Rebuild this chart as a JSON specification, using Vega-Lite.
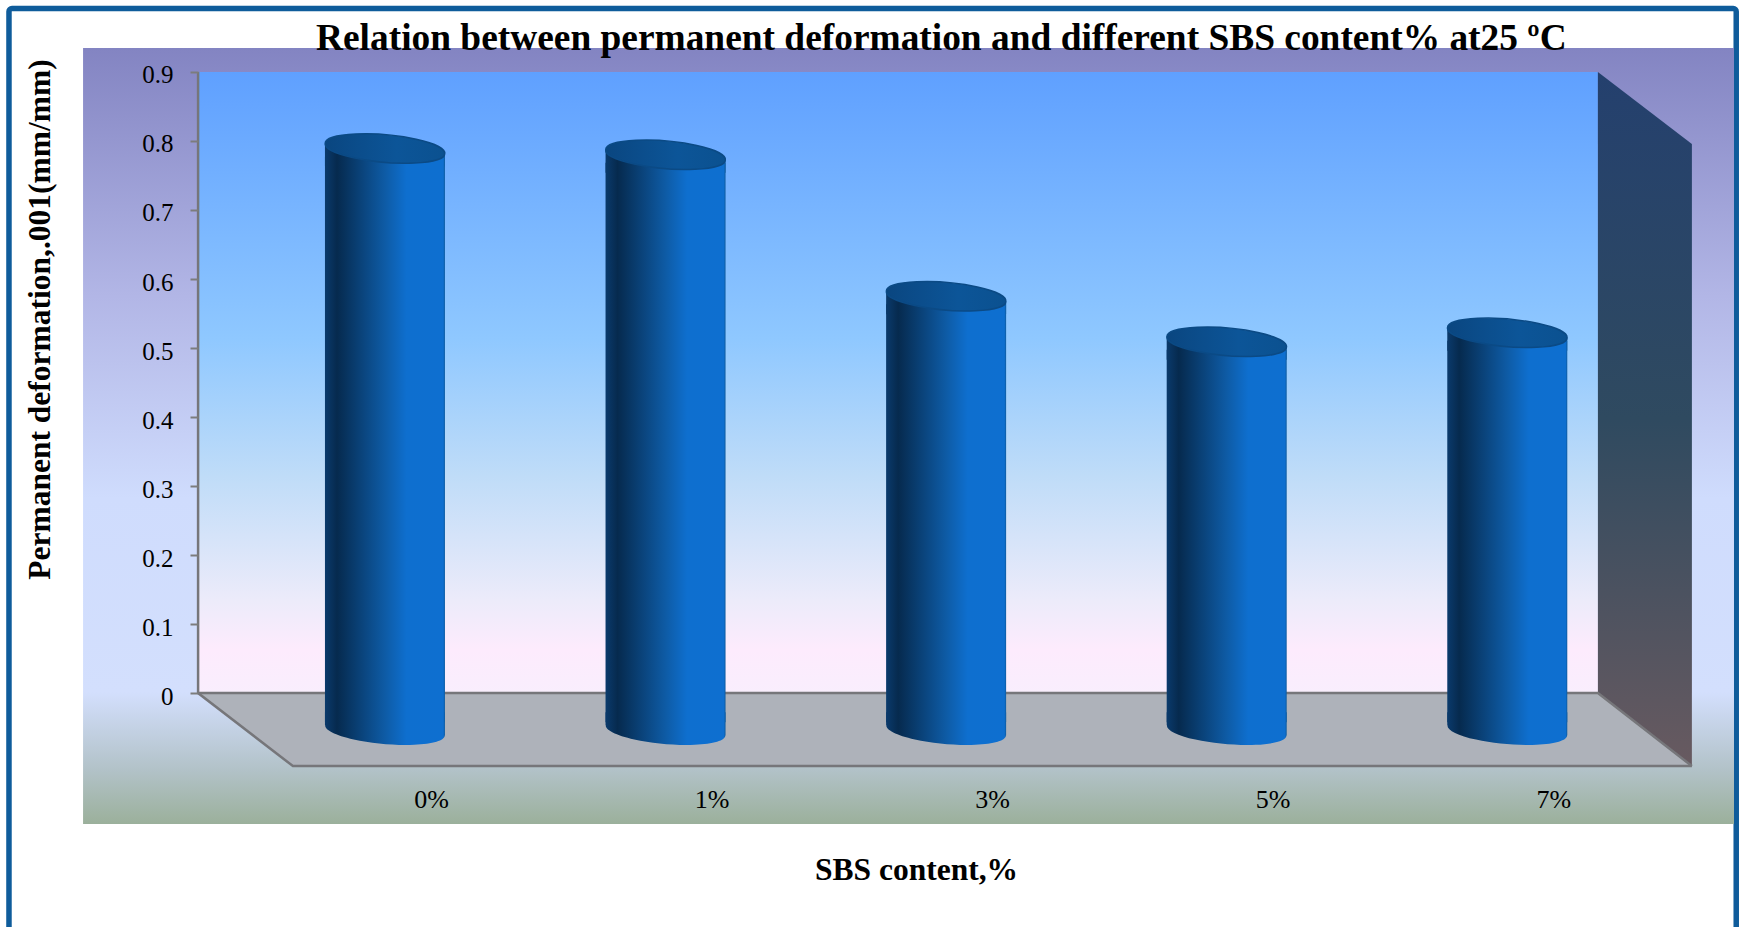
{
"$schema":"https://vega.github.io/schema/vega-lite/v6.json",
"width":1741,"height":927,"autosize":{"type":"none"},"padding":0,"background":"white",
"config":{"view":{"stroke":null},"axis":{"grid":false}},
"title":{"text":"Relation between permanent deformation and different SBS content% at25 ºC","anchor":"start","frame":"group","dx":316,"dy":37,"offset":-50,"baseline":"alphabetic","font":"Liberation Serif","fontWeight":"bold","fontSize":37.4,"color":"black"},
"datasets":{
"frame":[{"x":-1.34,"x2":4.816,"y":0.992,"y2":-0.345}],
"panel":[{"x":-1.076,"x2":4.808,"y":0.9348,"y2":-0.1899}],
"wall":[{"x":-0.666,"x2":4.323,"y":0.9,"y2":0}],
"side":[{"x":4.323,"y":0.9,"y2":0},{"x":4.658,"y":0.7957,"y2":-0.1058}],
"floor":[{"x":-0.666,"y":0,"y2":0},{"x":-0.328,"y":0,"y2":-0.1058},{"x":4.323,"y":0,"y2":-0.1058},{"x":4.658,"y":-0.1058,"y2":-0.1058}],
"edges":[{"s":"a","o":1,"x":-0.666,"y":0.9},{"s":"a","o":2,"x":-0.666,"y":0},{"s":"a","o":3,"x":-0.328,"y":-0.1058},{"s":"a","o":4,"x":4.658,"y":-0.1058},{"s":"b","o":1,"x":-0.666,"y":0},{"s":"b","o":2,"x":4.323,"y":0},{"s":"b","o":3,"x":4.658,"y":-0.1058}],
"cylinders":[{"content":"0%","index":0,"value":0.789,"base":-0.054},{"content":"1%","index":1,"value":0.78,"base":-0.054},{"content":"3%","index":2,"value":0.575,"base":-0.054},{"content":"5%","index":3,"value":0.509,"base":-0.054},{"content":"7%","index":4,"value":0.522,"base":-0.054}]
},
"layer":[
{"data":{"name":"frame"},"mark":{"type":"rect","fill":"white","stroke":"#0f5c9b","strokeWidth":5.5,"cornerRadius":3},
"encoding":{"x":{"field":"x","type":"quantitative","scale":{"domain":[-1.372,4.833],"nice":false,"zero":false,"padding":0},"axis":{"values":[0,1,2,3,4],"labelExpr":"['0%','1%','3%','5%','7%'][datum.value]","orient":"bottom","offset":-128,"ticks":false,"domain":false,"labelOffset":46,"labelPadding":0,"labelBaseline":"middle","labelFont":"Liberation Serif","labelFontSize":26,"labelColor":"black","labelOverlap":false,"labelFlush":false,"title":"SBS content,%","titleFont":"Liberation Serif","titleFontWeight":"bold","titleFontSize":31.5,"titleColor":"black","titleX":916,"titleY":71,"titleAlign":"center","titleBaseline":"middle","zindex":1}},"x2":{"field":"x2"},
"y":{"field":"y","type":"quantitative","scale":{"domain":[-0.339,1.0043],"nice":false,"zero":false,"padding":0},"axis":{"values":[0,0.1,0.2,0.3,0.4,0.5,0.6,0.7,0.8,0.9],"format":".1~f","orient":"left","offset":-198,"domain":false,"tickSize":8,"tickWidth":2,"tickColor":"#7c7c7c","labelPadding":17,"labelOffset":3,"labelFont":"Liberation Serif","labelFontSize":25,"labelColor":"black","title":"Permanent deformation,.001(mm/mm)","titleFont":"Liberation Serif","titleFontWeight":"bold","titleFontSize":31.5,"titleColor":"black","titleX":-158,"titleY":319,"titleAngle":-90,"titleAlign":"center","titleBaseline":"middle","zindex":1}},"y2":{"field":"y2"}}},
{"data":{"name":"panel"},"mark":{"type":"rect","fill":{"gradient":"linear","x1":0,"y1":0,"x2":0,"y2":1,"stops":[{"offset":0,"color":"#8384c2"},{"offset":0.32,"color":"#b2b6e6"},{"offset":0.58,"color":"#cfdcfd"},{"offset":0.83,"color":"#d3dffd"},{"offset":0.93,"color":"#b2c2c8"},{"offset":1,"color":"#9bb09b"}]}},
"encoding":{"x":{"field":"x","type":"quantitative"},"x2":{"field":"x2"},"y":{"field":"y","type":"quantitative"},"y2":{"field":"y2"}}},
{"data":{"name":"wall"},"mark":{"type":"rect","fill":{"gradient":"linear","x1":0,"y1":0,"x2":0,"y2":1,"stops":[{"offset":0,"color":"#5fa0ff"},{"offset":0.43,"color":"#8fc8ff"},{"offset":0.65,"color":"#bfdcf8"},{"offset":0.85,"color":"#ecebfa"},{"offset":0.93,"color":"#fdebfd"},{"offset":1,"color":"#f9eefd"}]}},
"encoding":{"x":{"field":"x","type":"quantitative"},"x2":{"field":"x2"},"y":{"field":"y","type":"quantitative"},"y2":{"field":"y2"}}},
{"data":{"name":"side"},"mark":{"type":"area","orient":"vertical","fill":{"gradient":"linear","x1":0,"y1":0,"x2":0,"y2":1,"stops":[{"offset":0,"color":"#24406e"},{"offset":0.5,"color":"#2f4a60"},{"offset":1,"color":"#685a60"}]}},
"encoding":{"x":{"field":"x","type":"quantitative"},"y":{"field":"y","type":"quantitative"},"y2":{"field":"y2"}}},
{"data":{"name":"floor"},"mark":{"type":"area","orient":"vertical","fill":"#aeb2ba"},
"encoding":{"x":{"field":"x","type":"quantitative"},"y":{"field":"y","type":"quantitative"},"y2":{"field":"y2"}}},
{"data":{"name":"edges"},"mark":{"type":"line","color":"#76767a","strokeWidth":2.5},
"encoding":{"x":{"field":"x","type":"quantitative"},"y":{"field":"y","type":"quantitative"},"detail":{"field":"s"},"order":{"field":"o"}}},
{"data":{"name":"cylinders"},"mark":{"type":"bar","orient":"vertical","size":120,"yOffset":8,"y2Offset":-8,"fill":{"gradient":"linear","x1":0,"y1":0,"x2":1,"y2":0,"stops":[{"offset":0,"color":"#0a3a6c"},{"offset":0.1,"color":"#062a4e"},{"offset":0.5,"color":"#0e5ba5"},{"offset":0.68,"color":"#0e6fcf"},{"offset":0.985,"color":"#0e6fd0"},{"offset":1,"color":"#0d5a9e"}]}},
"encoding":{"x":{"field":"index","type":"quantitative"},"y":{"field":"value","type":"quantitative"},"y2":{"field":"base"}}},
{"data":{"name":"cylinders"},"mark":{"type":"point","shape":"M-1,-0.087L1,0.087L1,0.3L-1,0.3Z","size":14400,"filled":true,"opacity":1,"fill":{"gradient":"linear","x1":0,"y1":0,"x2":1,"y2":0,"stops":[{"offset":0,"color":"#0a3a6c"},{"offset":0.1,"color":"#062a4e"},{"offset":0.5,"color":"#0e5ba5"},{"offset":0.68,"color":"#0e6fcf"},{"offset":0.985,"color":"#0e6fd0"},{"offset":1,"color":"#0d5a9e"}]}},
"encoding":{"x":{"field":"index","type":"quantitative"},"y":{"field":"value","type":"quantitative"}}},
{"data":{"name":"cylinders"},"mark":{"type":"point","shape":"M-1,-0.3L1,-0.3L1,0.087L0.996,0.087A1,0.225,5,1,1,-0.996,-0.087L-1,-0.087Z","size":14400,"filled":true,"opacity":1,"fill":{"gradient":"linear","x1":0,"y1":0,"x2":1,"y2":0,"stops":[{"offset":0,"color":"#0a3a6c"},{"offset":0.1,"color":"#062a4e"},{"offset":0.5,"color":"#0e5ba5"},{"offset":0.68,"color":"#0e6fcf"},{"offset":0.985,"color":"#0e6fd0"},{"offset":1,"color":"#0d5a9e"}]}},
"encoding":{"x":{"field":"index","type":"quantitative"},"y":{"field":"base","type":"quantitative"}}},
{"data":{"name":"cylinders"},"mark":{"type":"point","shape":"M-0.996,-0.087A1,0.225,5,1,1,0.996,0.087A1,0.225,5,1,1,-0.996,-0.087Z","size":14400,"filled":true,"opacity":1,"fill":{"gradient":"linear","x1":0,"y1":0,"x2":1,"y2":0,"stops":[{"offset":0,"color":"#0a4680"},{"offset":0.6,"color":"#0c5598"},{"offset":1,"color":"#0b5190"}]},"stroke":"#0b4a85","strokeWidth":1.5},
"encoding":{"x":{"field":"index","type":"quantitative"},"y":{"field":"value","type":"quantitative"}}}
]
}
